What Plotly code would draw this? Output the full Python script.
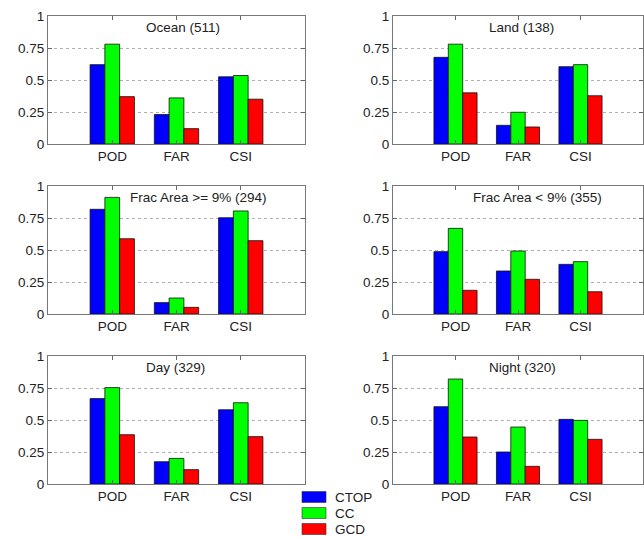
import plotly.graph_objects as go

# ---------------- data ----------------
metrics = ["POD", "FAR", "CSI"]
series_names = ["CTOP", "CC", "GCD"]
panel_titles = ["Ocean (511)", "Land (138)", "Frac Area >= 9% (294)",
                "Frac Area < 9% (355)", "Day (329)", "Night (320)"]
ctop = [[0.62, 0.23, 0.525], [0.677, 0.146, 0.604], [0.818, 0.089, 0.752],
        [0.487, 0.336, 0.388], [0.667, 0.174, 0.58], [0.604, 0.25, 0.505]]
cc = [[0.78, 0.36, 0.535], [0.78, 0.248, 0.62], [0.911, 0.125, 0.805],
      [0.669, 0.492, 0.409], [0.753, 0.2, 0.635], [0.82, 0.445, 0.497]]
gcd = [[0.37, 0.12, 0.35], [0.40, 0.133, 0.377], [0.588, 0.052, 0.573],
       [0.185, 0.271, 0.174], [0.385, 0.112, 0.37], [0.367, 0.138, 0.349]]
y_ticks = [0, 0.25, 0.5, 0.75, 1]
y_tick_labels = ["0", "0.25", "0.5", "0.75", "1"]

# ---------------- style ----------------
W, H = 644, 537
colors = ["#0000FF", "#00FF00", "#FF0000"]
FONT = "Liberation Sans, Arial, sans-serif"
FS = 13.5
col_px = [(48, 305), (393, 643)]
row_px = [(16, 144), (186, 314), (356, 484)]
title_x = [1.5, 1.5, 1.25, 1.25, 1.5, 1.5]

series = [ctop, cc, gcd]
xpos = [1, 2, 3]

fig = go.Figure()
layout = dict(
    template="none",
    width=W, height=H, margin=dict(l=0, r=0, t=0, b=0, pad=0, autoexpand=False),
    paper_bgcolor="white", plot_bgcolor="white",
    barmode="group", bargap=0.31, bargroupgap=0.0,
    showlegend=False, font=dict(family=FONT, size=FS, color="#222"),
)
annotations = []
shapes = []

for p in range(6):
    r, c = divmod(p, 2)
    idx = "" if p == 0 else str(p + 1)
    xa, ya = "x" + idx, "y" + idx
    for s in range(3):
        fig.add_trace(go.Bar(
            x=xpos, y=series[s][p], name=series_names[s],
            marker=dict(color=colors[s], line=dict(color="#111", width=0.8)),
            xaxis=xa, yaxis=ya, showlegend=False,
        ))
    x0, x1 = col_px[c]
    y0, y1 = row_px[r]
    layout["xaxis" + idx] = dict(
        domain=[x0 / W, x1 / W], anchor=ya, range=[0, 4], automargin=False,
        tickvals=xpos, ticktext=metrics, ticks="inside", ticklen=4,
        tickcolor="#666", showline=True, linecolor="#777", linewidth=1,
        mirror="ticks", showgrid=False, zeroline=False, fixedrange=True,
        tickfont=dict(family=FONT, size=FS, color="#222"),
    )
    layout["yaxis" + idx] = dict(
        domain=[1 - y1 / H, 1 - y0 / H], anchor=xa, range=[0, 1], automargin=False,
        tickvals=y_ticks, ticktext=y_tick_labels, ticks="inside", ticklen=4,
        tickcolor="#666", showline=True, linecolor="#777", linewidth=1,
        mirror="ticks", showgrid=True, gridcolor="#b0b0b0", griddash="dot",
        gridwidth=1, zeroline=False, fixedrange=True,
        tickfont=dict(family=FONT, size=FS, color="#222"),
    )
    annotations.append(dict(
        text=panel_titles[p], x=title_x[p], y=0.914, xref=xa, yref=ya,
        xanchor="left", yanchor="middle", showarrow=False,
        font=dict(family=FONT, size=FS, color="#222"),
    ))

# legend (manual, MATLAB style)
leg_rows = [497, 513, 529]
for s in range(3):
    yc = leg_rows[s]
    shapes.append(dict(
        type="rect", xref="paper", yref="paper",
        x0=302 / W, x1=326 / W, y0=1 - (yc + 5.5) / H, y1=1 - (yc - 5.5) / H,
        fillcolor=colors[s], line=dict(color="#333", width=0.6),
    ))
    annotations.append(dict(
        text=series_names[s], x=333 / W, y=1 - yc / H, xref="paper",
        yref="paper", xanchor="left", yanchor="middle", showarrow=False,
        font=dict(family=FONT, size=FS, color="#222"),
    ))

layout["annotations"] = annotations
layout["shapes"] = shapes
fig.update_layout(**layout)
fig.write_html("out.html")
